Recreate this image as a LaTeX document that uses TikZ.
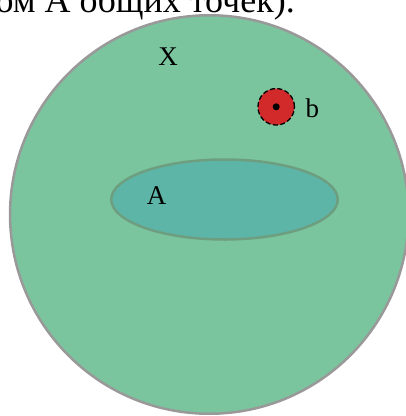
\documentclass[tikz,border=0pt]{standalone}
\usepackage{fontspec}
\setmainfont{Liberation Serif}
\usetikzlibrary{shapes.geometric}
\definecolor{bigfill}{HTML}{7BC59E}
\definecolor{bigline}{HTML}{999999}
\definecolor{afill}{HTML}{5DB5A8}
\definecolor{aline}{HTML}{6E9E80}
\definecolor{bfill}{HTML}{D22A2A}
\tikzset{
  setX/.style={circle, draw=bigline, fill=bigfill, line width=2.5pt, minimum size=398.5pt, inner sep=0pt},
  setA/.style={ellipse, draw=aline, fill=afill, line width=2.5pt, minimum width=226.5pt, minimum height=80pt, inner sep=0pt},
  nbhd/.style={circle, draw=black, fill=bfill, dash pattern=on 5pt off 2.5pt, line width=1.3pt, minimum size=36.5pt, inner sep=0pt},
  pt/.style={circle, fill=black, minimum size=7pt, inner sep=0pt},
  lbl/.style={font=\fontsize{27}{30}\selectfont, inner sep=0pt}
}
\begin{document}
\begin{tikzpicture}[x=1pt,y=-1pt]
\useasboundingbox (0,0) rectangle (406,416);
\clip (0,0) rectangle (406,416);
\fill[white] (0,0) rectangle (406,416);
\node[anchor=base east, inner sep=0pt, font=\fontsize{36}{38}\selectfont] (top) at (295,12.7) {ом A общих точек).};
\node[setX] (X) at (209.3,214.5) {};
\node[setA] (A) at (224.5,199.5) {};
\node[nbhd] (bn) at (276.2,106.8) {};
\node[pt] (b) at (bn.center) {};
\node[lbl] (Xl) at (168,57) {X};
\node[lbl] (Al) at (156.7,196) {A};
\node[lbl, anchor=west] (bl) at (305.5,108) {b};
\end{tikzpicture}
\end{document}
